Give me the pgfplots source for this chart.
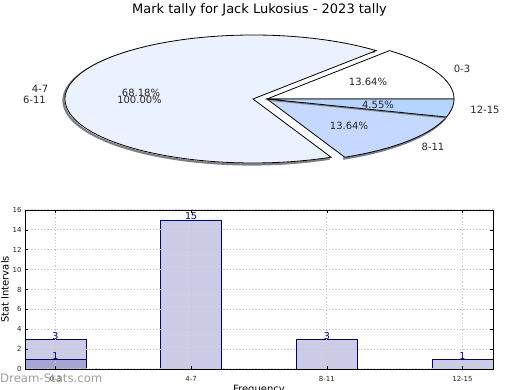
\documentclass[border=0pt]{standalone}
\usepackage{fontspec}
\setmainfont{DejaVu Sans}
\usepackage{pgfplots}
\pgfplotsset{compat=1.18}
\definecolor{cA}{HTML}{FFFFFF}
\definecolor{cB}{HTML}{EBF2FF}
\definecolor{cC}{HTML}{C5D8FF}
\definecolor{cD}{HTML}{B4D5FF}
\definecolor{shad}{HTML}{808080}
\definecolor{barfill}{HTML}{CCCCE6}
\definecolor{bardark}{HTML}{A5A5D0}
\definecolor{navyb}{HTML}{000080}
\definecolor{gridc}{HTML}{C8C8C8}
\begin{document}
\begin{tikzpicture}[x=1pt,y=1pt]
\useasboundingbox (0pt,0pt) rectangle (520pt,390pt);
% ---------------- pie ----------------
\begin{axis}[at={(0pt,0pt)}, anchor=south west, scale only axis, width=520pt, height=390pt,
  xmin=0, xmax=520, ymin=0, ymax=390, hide axis, clip=false]
% shadows of the outer rim
\addplot[draw=shad, line width=2.2pt, domain=49.09:294.55, samples=120] ({251.5+188*cos(x)},{289.5+64*sin(x)});
\addplot[draw=shad, line width=2.2pt, domain=294.55:343.64, samples=40] ({265.5+187*cos(x)},{289.5+64*sin(x)});
% slice 0-3 : 3 of 22 -> 0 to 49.09 deg
\addplot[draw=black, line width=0.8pt, fill=cA, domain=0:49.09, samples=40] ({267+187*cos(x)},{291+64*sin(x)}) -- (267,291) -- cycle;
% slice 4-7 : 15 of 22 -> 49.09 to 294.55 deg
\addplot[draw=black, line width=0.8pt, fill=cB, domain=49.09:294.55, samples=120] ({253+188*cos(x)},{291+64*sin(x)}) -- (253,291) -- cycle;
% slice 8-11 : 3 of 22 -> 294.55 to 343.64 deg
\addplot[draw=black, line width=0.8pt, fill=cC, domain=294.55:343.64, samples=40] ({267+187*cos(x)},{291+64*sin(x)}) -- (267,291) -- cycle;
% slice 12-15 : 1 of 22 -> 343.64 to 360 deg
\addplot[draw=none, fill=shad, domain=343.64:360, samples=20] ({266+187*cos(x)},{289.6+64*sin(x)}) -- (266,289.6) -- cycle;
\addplot[draw=black, line width=0.8pt, fill=cD, domain=343.64:360, samples=20] ({267+187*cos(x)},{291+64*sin(x)}) -- (267,291) -- cycle;
% labels
\begin{scope}[every node/.style={font=\fontsize{10}{12}\selectfont, inner sep=0pt, text=black!85}]
\node at (axis cs:462,321) {0-3};
\node at (axis cs:40,301.5) {4-7};
\node at (axis cs:34.5,290.5) {6-11};
\node at (axis cs:485,280.5) {12-15};
\node at (axis cs:433,243) {8-11};
\node at (axis cs:368,308) {13.64\%};
\node at (axis cs:141,297.5) {68.18\%};
\node at (axis cs:139.5,290.5) {100.00\%};
\node at (axis cs:378,285) {4.55\%};
\node at (axis cs:349,264) {13.64\%};
\end{scope}
\node[font=\fontsize{13}{15}\selectfont, anchor=base, inner sep=0pt] at (axis cs:259.5,376.7) {Mark tally for Jack Lukosius - 2023 tally};
\end{axis}
% ---------------- bars ----------------
\begin{axis}[at={(25pt,21pt)}, anchor=south west, scale only axis, width=468pt, height=159pt,
  xmin=-0.225, xmax=3.225, ymin=0, ymax=16,
  ytick={0,2,...,16}, xtick={0,1,2,3}, xticklabels={0-3,4-7,8-11,12-15},
  grid=major, grid style={color=gridc, line width=1pt, dash pattern=on 1.2pt off 2pt},
  axis on top, tick align=inside, major tick length=3pt,
  tick style={black, line width=0.6pt},
  axis line style={line width=0.8pt},
  tick label style={font=\fontsize{7}{8}\selectfont, text=black!85},
  xticklabel style={yshift=-3.5pt},
  /pgf/number format/assume math mode=true,
  xlabel={Frequency}, ylabel={Stat Intervals},
  label style={font=\fontsize{10.5}{12}\selectfont},
  every axis y label/.style={at={(axis description cs:-0.0427,0.5)}, rotate=90, anchor=center, inner sep=0pt},
  every axis x label/.style={at={(axis description cs:0.5,-0.1006)}, anchor=north, inner sep=0pt},
  every node near coord/.append style={anchor=base, inner sep=0pt, font=\fontsize{9.5}{11}\selectfont, text=navyb},
]
\addplot[ybar, bar width=61pt, bar shift=0pt, fill=barfill, draw=navyb, line width=0.8pt, nodes near coords] coordinates {(0,3) (1,15) (2,3) (3,1)};
\addplot[ybar, bar width=61pt, bar shift=0pt, fill=bardark, draw=navyb, line width=0.8pt, nodes near coords] coordinates {(0,1)};
\end{axis}
\node[font=\fontsize{11.7}{13}\selectfont, anchor=base west, inner sep=0pt, text=black!38] at (0pt,7pt) {Dream-Stats.com};
\end{tikzpicture}
\end{document}
